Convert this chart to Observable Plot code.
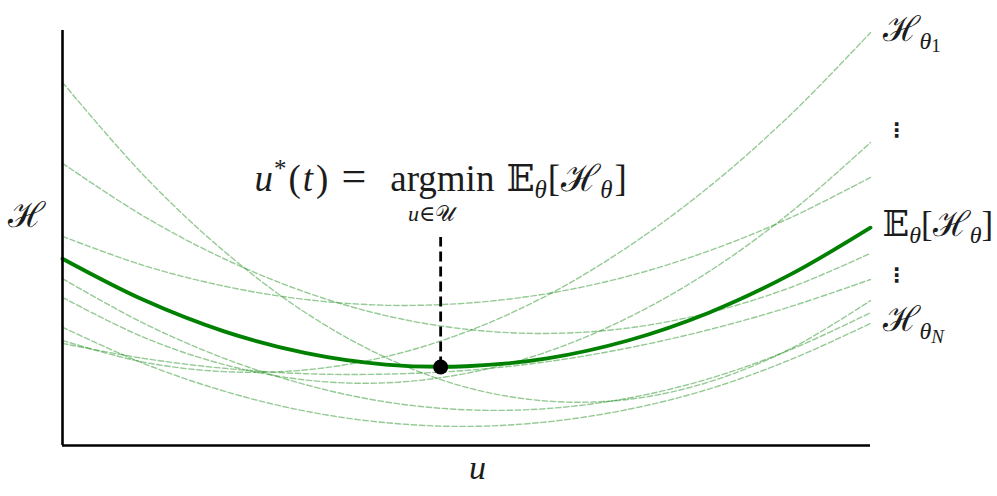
<!DOCTYPE html>
<html>
<head>
<meta charset="utf-8">
<script src="https://cdn.jsdelivr.net/npm/d3@7"></script>
<script src="https://cdn.jsdelivr.net/npm/@observablehq/plot@0.6"></script>
<style>
  html, body { margin: 0; padding: 0; background: #fff; }
  #chart svg { display: block; }
</style>
</head>
<body>
<div id="chart"></div>
<script>
// ---- data (u normalised to [0,1], H to [0,100]) ----
const u = [0, 0.1, 0.2, 0.3, 0.4, 0.5, 0.6, 0.7, 0.8, 0.9, 1];

const theta1 = [25.3, 20.1, 17.8, 18.2, 21.4, 27.4, 36.2, 47.9, 62.3, 79.5, 99.5];
const theta2 = [35.7, 26.1, 19.5, 15.8, 15.1, 17.4, 22.6, 30.8, 41.9, 56.0, 73.0];
const theta3 = [50.4, 43.4, 38.4, 35.2, 33.8, 34.3, 36.6, 40.8, 46.9, 54.8, 64.6];
const theta4 = [68.0, 55.3, 45.0, 37.0, 31.3, 28.0, 27.0, 28.3, 32.0, 38.0, 46.3];
const theta5 = [24.6, 21.0, 18.6, 17.3, 17.2, 18.1, 20.2, 23.5, 27.9, 33.4, 40.0];
const theta6 = [87.5, 65.2, 46.8, 32.1, 21.2, 14.0, 10.7, 11.1, 15.3, 23.2, 34.9];
const theta7 = [40.2, 29.5, 21.0, 14.7, 10.5, 8.6, 8.9, 11.4, 16.1, 23.0, 32.0];
const thetaN = [28.5, 19.8, 13.1, 8.3, 5.5, 4.6, 5.7, 8.7, 13.6, 20.6, 29.4];

const meanH = [45.0, 35.1, 27.5, 22.3, 19.5, 19.1, 21.0, 25.3, 32.0, 41.1, 52.5];

const optimumU = [0.468];
const optimumH = [18.9];
const markerTopH = [50.1];

const yLabel = "ℋ";
const xLabel = "u";
const eqText = "u*(t) = argmin 𝔼θ[ℋθ]";
const eqSub = "u∈𝒰";
const labelTheta1 = "ℋθ1";
const labelMean = "𝔼θ[ℋθ]";
const labelThetaN = "ℋθN";
const vdots = "⋮";

// ---- build tables ----
const scenarios = [theta1, theta2, theta3, theta4, theta5, theta6, theta7, thetaN];
const scenarioRows = scenarios.flatMap((vals, k) => vals.map((h, i) => ({u: u[i], h, k})));
const meanRows = meanH.map((h, i) => ({u: u[i], h}));
const optRows = optimumU.map((v, i) => ({u: v, h: optimumH[i], top: markerTopH[i]}));
const last = u.length - 1;
const rightLabels = [
  {u: u[last], h: theta1[last], text: labelTheta1},
  {u: u[last], h: meanH[last], text: labelMean},
  {u: u[last], h: thetaN[last], text: labelThetaN}
];
const dotsRows = [
  {u: u[last], h: (theta1[last] + meanH[last]) / 2},
  {u: u[last], h: (meanH[last] + thetaN[last]) / 2}
];

const serif = "'Liberation Serif', 'DejaVu Serif', serif";
const ink = "#1c1c1c";

const chart = Plot.plot({
  width: 997,
  height: 496,
  marginLeft: 62,
  marginRight: 127,
  marginTop: 30,
  marginBottom: 51,
  x: {domain: [0, 1], axis: null},
  y: {domain: [0, 100], axis: null},
  style: {background: "#fff", overflow: "visible", fontFamily: serif, color: ink},
  marks: [
    Plot.line(scenarioRows, {
      x: "u", y: "h", z: "k",
      stroke: "#008000", strokeOpacity: 0.42, strokeWidth: 1.4,
      strokeDasharray: "5.5,2.6", curve: "catmull-rom"
    }),
    Plot.line(meanRows, {
      x: "u", y: "h", stroke: "#008000", strokeWidth: 3.8, curve: "catmull-rom"
    }),
    Plot.ruleX([0], {stroke: "#000", strokeWidth: 2.6}),
    Plot.ruleY([0], {stroke: "#000", strokeWidth: 2.6}),
    Plot.ruleX(optRows, {
      x: "u", y1: "h", y2: "top",
      stroke: "#000", strokeWidth: 2.8, strokeDasharray: "10,5"
    }),
    Plot.dot(optRows, {x: "u", y: "h", r: 7.5, fill: "#000", stroke: "none"}),
    // annotation above the marker
    Plot.text(optRows, {
      x: "u", y: "top", text: () => eqText, dy: -47,
      lineAnchor: "bottom", fontSize: 37, fill: ink
    }),
    Plot.text(optRows, {
      x: "u", y: "top", text: () => eqSub, dy: -17, dx: -9,
      lineAnchor: "bottom", fontSize: 22, fill: ink
    }),
    // right-hand labels
    Plot.text(rightLabels, {
      x: "u", y: "h", text: "text", dx: 12, dy: 8,
      textAnchor: "start", lineAnchor: "bottom", fontSize: 35, fill: ink
    }),
    Plot.text(dotsRows, {
      x: "u", y: "h", text: () => vdots, dx: 26, dy: 0,
      textAnchor: "middle", lineAnchor: "middle", fontSize: 20, fontWeight: "bold",
      fill: ink, fontFamily: "'DejaVu Sans', sans-serif"
    }),
    // axis labels
    Plot.text([yLabel], {
      frameAnchor: "left", dx: -36, dy: -22, textAnchor: "middle",
      lineAnchor: "middle", fontSize: 35, fill: ink
    }),
    Plot.text([xLabel], {
      frameAnchor: "bottom", dx: 11, dy: 33, textAnchor: "middle",
      lineAnchor: "bottom", fontSize: 34, fontStyle: "italic", fill: ink
    })
  ]
});

document.getElementById("chart").appendChild(chart);

// ---- rich text (sub/superscripts) via tspans, matched by text content ----
function richText(content, parts) {
  chart.querySelectorAll("text").forEach(t => {
    if (t.textContent !== content) return;
    t.textContent = "";
    for (const p of parts) {
      const ts = document.createElementNS("http://www.w3.org/2000/svg", "tspan");
      ts.textContent = p.t;
      if (p.i) ts.setAttribute("font-style", "italic");
      if (p.s) ts.setAttribute("font-size", p.s);
      if (p.dy) ts.setAttribute("dy", p.dy);
      if (p.dx) ts.setAttribute("dx", p.dx);
      t.appendChild(ts);
    }
  });
}
richText(eqText, [
  {t: "u", i: 1}, {t: "*", s: 25, dy: -14, dx: 1}, {t: "(", dy: 14, dx: 2}, {t: "t", i: 1, dx: 2},
  {t: ")", dx: 3}, {t: "=", s: 44, dx: 13}, {t: "argmin", dx: 24}, {t: "𝔼", dx: 12},
  {t: "θ", i: 1, s: 25, dy: 7}, {t: "[", dy: -7, dx: 1},
  {t: "ℋ", dx: 1}, {t: "θ", i: 1, s: 25, dy: 7}, {t: "]", dy: -7, dx: 2}
]);
richText(eqSub, [{t: "u", i: 1}, {t: "∈"}, {t: "𝒰"}]);
richText(labelTheta1, [
  {t: "ℋ"}, {t: "θ", i: 1, s: 24, dy: 8}, {t: "1", s: 19, dy: 3}
]);
richText(labelMean, [
  {t: "𝔼"}, {t: "θ", i: 1, s: 24, dy: 7}, {t: "[", dy: -7},
  {t: "ℋ"}, {t: "θ", i: 1, s: 24, dy: 7}, {t: "]", dy: -7}
]);
richText(labelThetaN, [
  {t: "ℋ"}, {t: "θ", i: 1, s: 24, dy: 8}, {t: "N", i: 1, s: 19, dy: 4}
]);
</script>
</body>
</html>
